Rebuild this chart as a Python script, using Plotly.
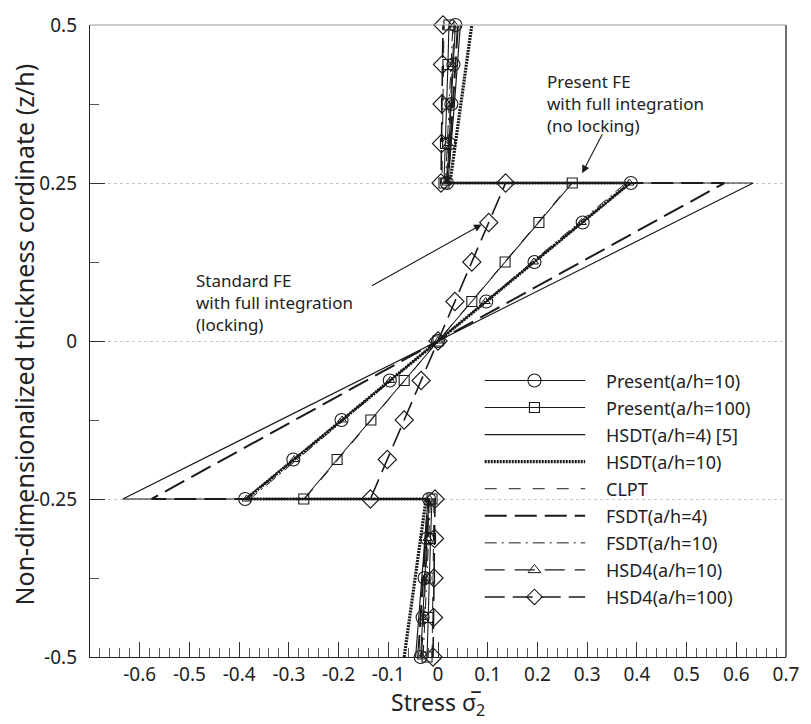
import plotly.graph_objects as go

# ---------------- data ----------------
z = [-0.5, -0.4375, -0.375, -0.3125, -0.25, -0.25, -0.1875, -0.125, -0.0625, 0.0,
     0.0625, 0.125, 0.1875, 0.25, 0.25, 0.3125, 0.375, 0.4375, 0.5]

present_10 = [-0.035, -0.031, -0.027, -0.022, -0.018, -0.388, -0.291, -0.194, -0.097, 0.0,
              0.097, 0.194, 0.291, 0.388, 0.018, 0.022, 0.027, 0.031, 0.035]
present_100 = [-0.022, -0.020, -0.017, -0.015, -0.012, -0.270, -0.203, -0.135, -0.068, 0.0,
               0.068, 0.135, 0.203, 0.270, 0.012, 0.015, 0.017, 0.020, 0.022]
hsdt_4 = [-0.045, -0.039, -0.033, -0.027, -0.020, -0.634, -0.475, -0.317, -0.158, 0.0,
          0.158, 0.317, 0.475, 0.634, 0.020, 0.027, 0.033, 0.039, 0.045]
hsdt_10 = [-0.068, -0.057, -0.046, -0.035, -0.024, -0.386, -0.290, -0.193, -0.097, 0.0,
           0.097, 0.193, 0.290, 0.386, 0.024, 0.035, 0.046, 0.057, 0.068]
clpt = [-0.012, -0.011, -0.010, -0.009, -0.008, -0.268, -0.201, -0.134, -0.067, 0.0,
        0.067, 0.134, 0.201, 0.268, 0.008, 0.009, 0.010, 0.011, 0.012]
fsdt_4 = [-0.040, -0.035, -0.030, -0.025, -0.020, -0.576, -0.432, -0.288, -0.144, 0.0,
          0.144, 0.288, 0.432, 0.576, 0.020, 0.025, 0.030, 0.035, 0.040]
fsdt_10 = [-0.030, -0.026, -0.023, -0.019, -0.015, -0.378, -0.284, -0.189, -0.095, 0.0,
           0.095, 0.189, 0.284, 0.378, 0.015, 0.019, 0.023, 0.026, 0.030]
hsd4_10 = [-0.033, -0.029, -0.025, -0.021, -0.017, -0.385, -0.289, -0.193, -0.096, 0.0,
           0.096, 0.193, 0.289, 0.385, 0.017, 0.021, 0.025, 0.029, 0.033]
hsd4_100 = [-0.010, -0.009, -0.008, -0.007, -0.006, -0.136, -0.102, -0.068, -0.034, 0.0,
            0.034, 0.068, 0.102, 0.136, 0.006, 0.007, 0.008, 0.009, 0.010]

series_names = ["Present(a/h=10)", "Present(a/h=100)", "HSDT(a/h=4) [5]", "HSDT(a/h=10)",
                "CLPT", "FSDT(a/h=4)", "FSDT(a/h=10)", "HSD4(a/h=10)", "HSD4(a/h=100)"]
series_values = [present_10, present_100, hsdt_4, hsdt_10, clpt, fsdt_4, fsdt_10, hsd4_10, hsd4_100]

x_tick_vals = [-0.6, -0.5, -0.4, -0.3, -0.2, -0.1, 0.0, 0.1, 0.2, 0.3, 0.4, 0.5, 0.6, 0.7]
x_tick_text = ["-0.6", "-0.5", "-0.4", "-0.3", "-0.2", "-0.1", "0", "0.1", "0.2", "0.3", "0.4", "0.5", "0.6", "0.7"]
y_tick_vals = [-0.5, -0.25, 0.0, 0.25, 0.5]
y_tick_text = ["-0.5", "-0.25", "0", "0.25", "0.5"]

# ---------------- styles ----------------
INK = "#1a1a1a"
FONT = "Noto Sans"
styles = [
    dict(line=dict(color=INK, width=1.1), marker=dict(symbol="circle-open", size=13, color=INK, line=dict(width=1.1)), mode="lines+markers"),
    dict(line=dict(color=INK, width=1.1), marker=dict(symbol="square-open", size=10, color=INK, line=dict(width=1.1)), mode="lines+markers"),
    dict(line=dict(color=INK, width=1.2), mode="lines"),
    dict(line=dict(color=INK, width=3.2, dash="2px,1px"), mode="lines"),
    dict(line=dict(color=INK, width=1.0, dash="12px,12px"), mode="lines"),
    dict(line=dict(color=INK, width=2.0, dash="22px,8px"), mode="lines"),
    dict(line=dict(color=INK, width=1.0, dash="12px,5px,2px,5px"), mode="lines"),
    dict(line=dict(color=INK, width=1.1, dash="20px,10px"), marker=dict(symbol="triangle-up-open", size=8, color=INK, line=dict(width=1)), mode="lines+markers"),
    dict(line=dict(color=INK, width=1.6, dash="20px,8px"), marker=dict(symbol="diamond-open", size=14, color=INK, line=dict(width=1.1)), mode="lines+markers"),
]
legend_marker_sizes = [13, 10, None, None, None, None, None, 11, 12]

fig = go.Figure()
for name, vals, st in zip(series_names, series_values, styles):
    fig.add_trace(go.Scatter(x=vals, y=z, name=name, showlegend=False, cliponaxis=False, **st))

# ---------------- manual legend (pixel-space overlay axes) ----------------
L = dict(x0=487, x1=588, xm=537, xt=607, y0=377, dy=27.4)
for i, (name, st) in enumerate(zip(series_names, styles)):
    yy = L["y0"] + i * L["dy"]
    fig.add_trace(go.Scatter(x=[L["x0"], L["x1"]], y=[yy, yy], mode="lines", line=st["line"],
                             xaxis="x2", yaxis="y2", showlegend=False, hoverinfo="skip"))
    if "marker" in st:
        mk = dict(st["marker"])
        mk["size"] = legend_marker_sizes[i]
        fig.add_trace(go.Scatter(x=[L["xm"]], y=[yy], mode="markers", marker=mk,
                                 xaxis="x2", yaxis="y2", showlegend=False, hoverinfo="skip"))
    fig.add_annotation(x=L["xt"], y=yy, xref="x2", yref="y2", text=name, showarrow=False,
                       xanchor="left", yanchor="middle", font=dict(family=FONT, size=18, color="#222"))

# ---------------- text annotations ----------------
fig.add_annotation(x=548, y=96, xref="x2", yref="y2", text="Present FE<br>with full integration<br>(no locking)",
                   showarrow=False, xanchor="left", yanchor="middle", align="left",
                   font=dict(family=FONT, size=17, color="#222"))
fig.add_annotation(x=195, y=298, xref="x2", yref="y2", text="Standard FE<br>with full integration<br>(locking)",
                   showarrow=False, xanchor="left", yanchor="middle", align="left",
                   font=dict(family=FONT, size=17, color="#222"))
fig.add_annotation(x=585, y=167, xref="x2", yref="y2", ax=606, ay=126, axref="x2", ayref="y2",
                   text="", showarrow=True, arrowhead=2, arrowsize=1.4, arrowwidth=1.1, arrowcolor=INK)
fig.add_annotation(x=484, y=219, xref="x2", yref="y2", ax=372, ay=282, axref="x2", ayref="y2",
                   text="", showarrow=True, arrowhead=2, arrowsize=1.4, arrowwidth=1.1, arrowcolor=INK)

# axis titles
fig.add_annotation(x=(24 - 90) / 700, y=(657 - 330) / 640, xref="paper", yref="paper", textangle=-90,
                   text="Non-dimensionalized thickness cordinate (z/h)", showarrow=False,
                   xanchor="center", yanchor="middle", font=dict(family=FONT, size=25, color="#222"))
fig.add_annotation(x=0.5, y=(657 - 704) / 640, xref="paper", yref="paper",
                   text="Stress σ\u0305<sub>2</sub>", showarrow=False,
                   xanchor="center", yanchor="middle", font=dict(family=FONT, size=23, color="#222"))

fig.update_layout(
    width=811, height=724,
    margin=dict(l=90, r=21, t=17, b=67),
    paper_bgcolor="white", plot_bgcolor="white",
    showlegend=False,
    xaxis=dict(range=[-0.7, 0.7], tickvals=x_tick_vals, ticktext=x_tick_text,
               ticks="inside", ticklen=15, tickwidth=1, tickcolor="#333",
               minor=dict(ticks="inside", dtick=0.02, tick0=-0.7, ticklen=9, tickcolor="#555", showgrid=False),
               showline=True, linecolor="#222", linewidth=1.3, mirror=False,
               showgrid=False, zeroline=False,
               tickfont=dict(family=FONT, size=19, color="#222")),
    yaxis=dict(range=[-0.5, 0.5], tickvals=y_tick_vals, ticktext=y_tick_text,
               ticks="inside", ticklen=15, tickwidth=1, tickcolor="#333",
               minor=dict(ticks="inside", dtick=0.125, tick0=-0.5, ticklen=9, tickcolor="#555", showgrid=False),
               showline=True, linecolor="#222", linewidth=1.3, mirror=False,
               showgrid=True, gridcolor="#c8c8c8", griddash="dot", gridwidth=1, zeroline=False,
               ticklabelstandoff=8,
               tickfont=dict(family=FONT, size=19, color="#222")),
    xaxis2=dict(range=[90, 790], overlaying="x", visible=False, fixedrange=True),
    yaxis2=dict(range=[657, 17], overlaying="y", visible=False, fixedrange=True),
)

# frame: right border (dark) and top border (light)
fig.add_shape(type="line", xref="paper", yref="paper", x0=1, x1=1, y0=0, y1=1, line=dict(color="#222", width=1.3))
fig.add_shape(type="line", xref="paper", yref="paper", x0=0, x1=1, y0=1, y1=1, line=dict(color="#999", width=1))

fig.write_html("out.html")
